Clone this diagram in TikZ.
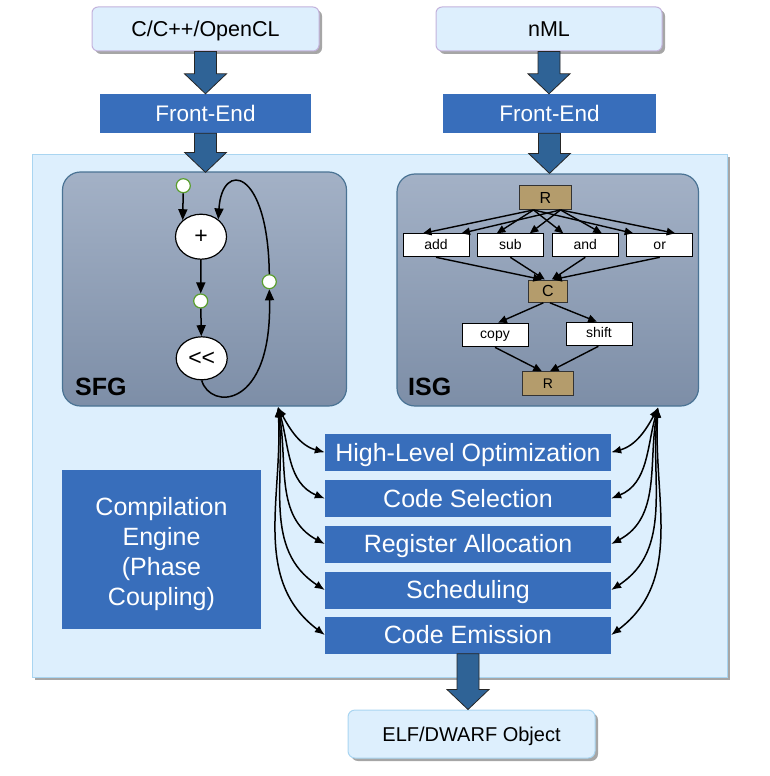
\documentclass[tikz,border=0pt]{standalone}
\usepackage{fontspec}
\setmainfont{Liberation Sans}
\usetikzlibrary{calc,shapes.geometric,shadows,arrows.meta}
\definecolor{panelfill}{HTML}{DDEFFD}
\definecolor{paneldraw}{HTML}{A9D5F1}
\definecolor{phaseblue}{HTML}{386EBB}
\definecolor{fatblue}{HTML}{2F6396}
\definecolor{srcdraw}{HTML}{C3B3DC}
\definecolor{gtop}{HTML}{A3B1C6}
\definecolor{gbot}{HTML}{7D8EA7}
\definecolor{gdraw}{HTML}{4A7394}
\definecolor{tanbox}{HTML}{B49C6C}
\definecolor{greenring}{HTML}{5A9E2E}
\newcommand\fatarrow[2]{%
  \filldraw[fatarr] let \p1=(#1), \p2=(#2) in
  (\x1-11pt,\y1) -- (\x1-11pt,\y2+20pt) -- (\x1-21pt,\y2+20pt) -- (\x1,\y2)
  -- (\x1+21pt,\y2+20pt) -- (\x1+11pt,\y2+20pt) -- (\x1+11pt,\y1) -- cycle;}
\tikzset{
  capc/.style={text height=#1, text depth=0pt},
  myshadow/.style={drop shadow={shadow xshift=3pt,shadow yshift=-3pt,opacity=0.35,fill=black}},
  srcbox/.style={draw=srcdraw, fill=panelfill, rounded corners=6pt, line width=1pt, myshadow, capc=15.4pt,
    minimum width=227pt, minimum height=44pt, inner sep=0, font=\fontsize{21.5}{25}\selectfont},
  elfbox/.style={draw=paneldraw, fill=panelfill, rounded corners=7pt, line width=1pt, myshadow, capc=14.3pt,
    minimum width=247pt, minimum height=48pt, inner sep=0, font=\fontsize{20}{24}\selectfont},
  febox/.style={fill=phaseblue, text=white, minimum height=39pt, inner sep=0, capc=16.1pt,
    font=\fontsize{22.5}{26}\selectfont},
  phasebox/.style={fill=phaseblue, text=white, minimum width=286pt, minimum height=37pt, inner sep=0, capc=17.9pt,
    font=\fontsize{25}{29}\selectfont},
  enginebox/.style={fill=phaseblue, minimum width=199pt, minimum height=159pt, inner sep=0},
  enginetext/.style={text=white, inner sep=0, align=center, font=\fontsize{25}{30}\selectfont},
  graphbox/.style={top color=gtop, bottom color=gbot, draw=gdraw, line width=1.2pt, rounded corners=18pt, inner sep=0},
  graphlabel/.style={anchor=base west, inner sep=0, font=\fontsize{25}{29}\selectfont\bfseries},
  fatarr/.style={fill=fatblue, draw=black!85, line width=0.8pt, line join=miter},
  ring/.style={circle, draw=greenring, fill=white, line width=1.2pt, minimum size=14pt, inner sep=0},
  opnode/.style={ellipse, draw=black, fill=white, line width=1.2pt, inner sep=0, font=\fontsize{23}{26}\selectfont},
  sfgarr/.style={line width=1.5pt, -{Triangle[length=11pt,width=9pt]}},
  isgop/.style={draw=black, fill=white, line width=1pt, minimum width=66pt, minimum height=23pt, inner sep=0,
    text height=10.5pt, text depth=3pt, font=\fontsize{14}{16}\selectfont},
  isgreg/.style={draw=black!80, fill=tanbox, line width=1pt, minimum height=23.5pt, inner sep=0, capc=11.5pt,
    font=\fontsize{16}{18}\selectfont},
  isgarr/.style={line width=1.4pt, -{Triangle[length=8.5pt,width=7.5pt]}},
  hubarr/.style={line width=1.5pt, {Latex[length=10pt,width=8pt]}-{Latex[length=10pt,width=8pt]}},
}
\begin{document}
\begin{tikzpicture}[x=1pt,y=-1pt]
\useasboundingbox (0,0) rectangle (770,776);
% panel
\node[draw=paneldraw, fill=panelfill, line width=1pt, myshadow, inner sep=0,
  minimum width=695pt, minimum height=523pt] (panel) at (379.5,415.5) {};
% SFG
\node[graphbox, minimum width=284pt, minimum height=234pt] (sfg) at (204.5,289) {};
\node[graphlabel] (sfglab) at (75,395) {SFG};
\node[ring] (in1) at (183.3,185.7) {};
\node[opnode, minimum width=51pt, minimum height=45pt] (plus) at (201,236.7) {+};
\node[ring] (mid) at (200.7,301) {};
\node[opnode, minimum width=51pt, minimum height=43pt] (shl) at (201.7,358.3) {{<}{<}};
\node[ring] (fb) at (269.3,281.7) {};
\draw[sfgarr] (in1) -- (plus.138);
\draw[sfgarr] (plus) -- (mid);
\draw[sfgarr] (mid) -- (shl);
\draw[sfgarr] (shl.south) .. controls (210,410) and (272,410) .. (fb.south);
\draw[sfgarr] (fb.north) .. controls (268,168) and (222,160) .. (plus.45);
% ISG
\node[graphbox, minimum width=301.5pt, minimum height=232pt] (isg) at (547.75,290) {};
\node[graphlabel] (isglab) at (408,395) {ISG};
\node[isgreg, minimum width=52pt] (rt) at (545.5,197.7) {R};
\node[isgop] (add) at (436,245.3) {add};
\node[isgop] (sub) at (510.3,245.3) {sub};
\node[isgop] (and) at (585.3,245.3) {and};
\node[isgop] (or) at (659.7,245.3) {or};
\node[isgreg, minimum width=39pt, minimum height=22.3pt] (c) at (547.8,291.2) {C};
\node[isgop, minimum height=23.7pt] (copy) at (495,335) {copy};
\node[isgop, minimum height=23.7pt] (shift) at (599,334) {shift};
\node[isgreg, minimum width=51pt, minimum height=24pt, capc=10pt, font=\fontsize{14}{16}\selectfont] (rb) at (547.8,383.7) {R};
\draw[isgarr] ([xshift=-12pt]rt.south) -- ([xshift=-13pt]add.north);
\draw[isgarr] ([xshift=15pt]rt.south) -- ([xshift=25.5pt]add.north);
\draw[isgarr] ([xshift=-12pt]rt.south) -- ([xshift=-13.5pt]sub.north);
\draw[isgarr] ([xshift=15pt]rt.south) -- ([xshift=19.5pt]sub.north);
\draw[isgarr] ([xshift=-12pt]rt.south) -- ([xshift=-22pt]and.north);
\draw[isgarr] ([xshift=15pt]rt.south) -- ([xshift=16.5pt]and.north);
\draw[isgarr] ([xshift=-12pt]rt.south) -- ([xshift=-26.5pt]or.north);
\draw[isgarr] ([xshift=15pt]rt.south) -- ([xshift=15.5pt]or.north);
\draw[isgarr] (add.south) -- ([xshift=-6pt]c.north);
\draw[isgarr] (sub.south) -- ([xshift=-3pt]c.north);
\draw[isgarr] (and.south) -- ([xshift=4pt]c.north);
\draw[isgarr] (or.south) -- ([xshift=5.5pt]c.north);
\draw[isgarr] ([xshift=-4.5pt]c.south) -- ([xshift=3.3pt]copy.north);
\draw[isgarr] ([xshift=2.2pt]c.south) -- ([xshift=-2.3pt]shift.north);
\draw[isgarr] (copy.south) -- ([xshift=-6pt]rb.north);
\draw[isgarr] ([xshift=-0.7pt]shift.south) -- ([xshift=2.2pt]rb.north);
% phases
\node[phasebox] (hlo) at (468,452.3) {High-Level Optimization};
\node[phasebox] (cs) at (468,498.5) {Code Selection};
\node[phasebox] (ra) at (468,544) {Register Allocation};
\node[phasebox] (sch) at (468,590) {Scheduling};
\node[phasebox] (ce) at (468,635) {Code Emission};
\node[enginebox] (eng) at (161.5,549.5) {};
\node[enginetext] (englab) at ([yshift=-5pt]eng.center) {Compilation\\Engine\\(Phase\\Coupling)};
% hub connectors
\coordinate (hubL) at (278,407);
\coordinate (hubR) at (658,407.5);
\draw[hubarr] (hubL) to[out=-62,in=165] (hlo.west);
\draw[hubarr] (hubL) to[out=-74,in=158] (cs.west);
\draw[hubarr] (hubL) to[out=-80,in=152] (ra.west);
\draw[hubarr] (hubL) to[out=-84,in=147] (sch.west);
\draw[hubarr] (hubL) to[out=-87,in=143] (ce.west);
\draw[hubarr] (hubR) to[out=-118,in=15] (hlo.east);
\draw[hubarr] (hubR) to[out=-106,in=22] (cs.east);
\draw[hubarr] (hubR) to[out=-100,in=28] (ra.east);
\draw[hubarr] (hubR) to[out=-96,in=33] (sch.east);
\draw[hubarr] (hubR) to[out=-93,in=37] (ce.east);
% inputs / front-ends / output
\node[srcbox] (src1) at (205.5,29) {C/C++/OpenCL};
\node[srcbox, minimum width=226pt] (src2) at (549,29) {nML};
\node[febox, minimum width=211pt] (fe1) at (205.5,113.5) {Front-End};
\node[febox, minimum width=213pt] (fe2) at (549.5,113.5) {Front-End};
\node[elfbox] (elf) at (471.5,734) {ELF/DWARF Object};
\fatarrow{src1.south}{fe1.north}
\fatarrow{fe1.south}{$(sfg.north)+(0,1)$}
\fatarrow{src2.south}{fe2.north}
\fatarrow{fe2.south}{$(isg.north)+(0,0)$}
\fatarrow{ce.south}{elf.north}
\end{tikzpicture}
\end{document}
